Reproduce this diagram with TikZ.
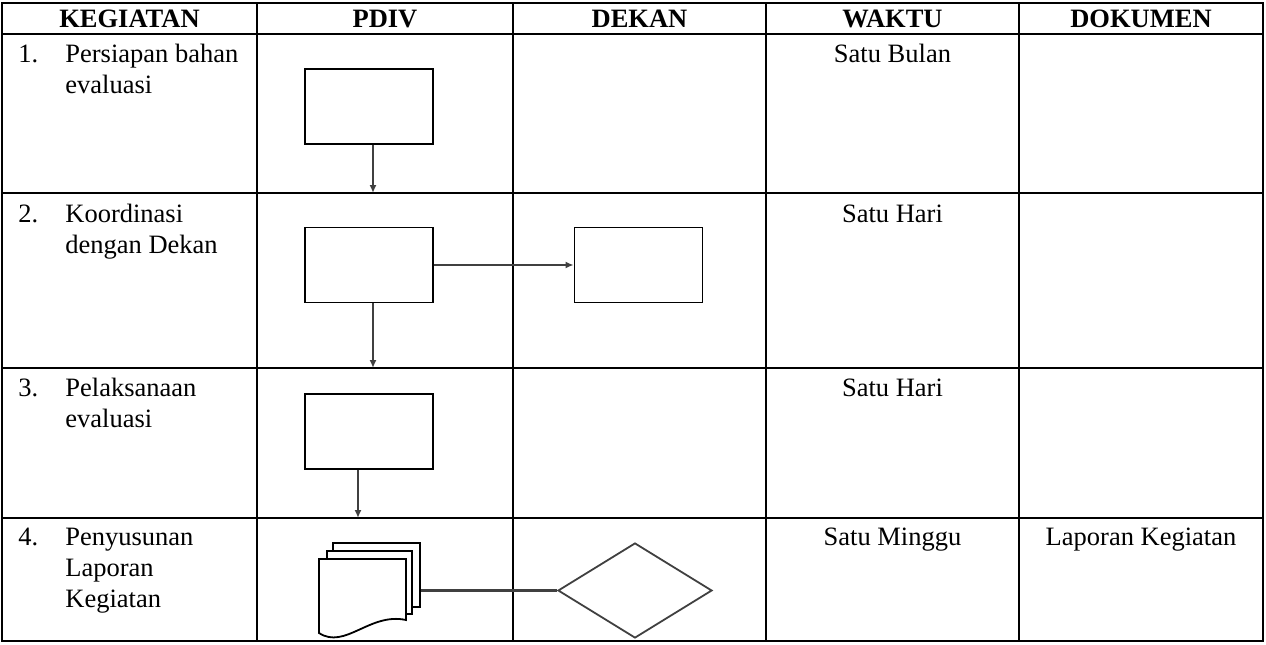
\documentclass[tikz,border=0pt]{standalone}
\usepackage{fontspec}
\setmainfont{Liberation Serif}
\usetikzlibrary{arrows.meta,shapes.geometric}

\definecolor{flowgray}{gray}{0.25}

\tikzset{
    grid line/.style={line width=1.3pt, black},
    process/.style={draw, line width=0.9pt, minimum width=64pt, minimum height=37.5pt, inner sep=0pt},
    decision/.style={diamond, draw=flowgray, line width=0.9pt, minimum width=77pt, minimum height=47.5pt, inner sep=0pt},
    page/.style={draw, fill=white, line width=0.9pt, inner sep=0pt},
    flow/.style={draw=flowgray, line width=1pt, -{Latex[length=4pt,width=3.5pt]}},
    link/.style={draw=flowgray, line width=1.1pt},
    cell text/.style={font=\fontsize{13.25pt}{15.5pt}\selectfont, inner sep=0pt},
    head text/.style={cell text, font=\fontsize{13.25pt}{15.5pt}\selectfont\bfseries, anchor=base}
}
\newcommand{\celllines}[1]{\begin{tabular}[t]{@{}l@{}}#1\end{tabular}}

\begin{document}
\begin{tikzpicture}[x=0.5pt, y=-0.5pt]
            \useasboundingbox (0,0) rectangle (1266,644);

            \coordinate (r1) at (0,193);
            \coordinate (r2) at (0,368);
            \coordinate (r3) at (0,518);

            % table
            \draw[grid line] (2,3) rectangle (1263,641);
            \draw[grid line] (2,34) -- (1263,34);
            \draw[grid line] (2,193) -- (1263,193);
            \draw[grid line] (2,368) -- (1263,368);
            \draw[grid line] (2,518) -- (1263,518);

            \draw[grid line] (257,3) -- (257,641);
            \draw[grid line] (513,3) -- (513,641);
            \draw[grid line] (766,3) -- (766,641);
            \draw[grid line] (1019,3) -- (1019,641);

            \node[head text] (hkegiatan) at (129.5,27) {KEGIATAN};
            \node[head text] (hpdiv) at (385,27) {PDIV};
            \node[head text] (hdekan) at (639.5,27) {DEKAN};
            \node[head text] (hwaktu) at (892.5,27) {WAKTU};
            \node[head text] (hdokumen) at (1141,27) {DOKUMEN};

            \node[cell text, anchor=base west] (no1) at (18,62) {1.};
            \node[cell text, anchor=base west] (keg1) at (65,62) {\celllines{Persiapan bahan\\evaluasi}};
            \node[cell text, anchor=base west] (no2) at (18,222) {2.};
            \node[cell text, anchor=base west] (keg2) at (65,222) {\celllines{Koordinasi\\dengan Dekan}};
            \node[cell text, anchor=base west] (no3) at (18,396) {3.};
            \node[cell text, anchor=base west] (keg3) at (65,396) {\celllines{Pelaksanaan\\evaluasi}};
            \node[cell text, anchor=base west] (no4) at (18,545) {4.};
            \node[cell text, anchor=base west] (keg4) at (65,545) {\celllines{Penyusunan\\Laporan\\Kegiatan}};

            \node[cell text, anchor=base] (waktu1) at (892.5,62) {Satu Bulan};
            \node[cell text, anchor=base] (waktu2) at (892.5,222) {Satu Hari};
            \node[cell text, anchor=base] (waktu3) at (892.5,396) {Satu Hari};
            \node[cell text, anchor=base] (waktu4) at (892.5,545) {Satu Minggu};
            \node[cell text, anchor=base] (dok4) at (1141,545) {Laporan Kegiatan};

            % flow
            \node[process] (pdiv1) at (369,106.5) {};
            \node[process] (pdiv2) at (369,265) {};
            \node[process] (dekan2) at (638.5,265) {};
            \node[process] (pdiv3) at (369,431.5) {};

            \draw[flow] ([xshift=2pt]pdiv1.south) -- ([xshift=2pt]pdiv1.south |- r1);
            \draw[flow] ([xshift=2pt]pdiv2.south) -- ([xshift=2pt]pdiv2.south |- r2);
            \draw[flow] ([xshift=-5.5pt]pdiv3.south) -- ([xshift=-5.5pt]pdiv3.south |- r3);
            \draw[flow] (pdiv2.east) -- (dekan2.west);

            \node[page, minimum width=43.5pt, minimum height=32pt] (doc3) at (376.5,575) {};
            \node[page, minimum width=42.5pt, minimum height=31.5pt] (doc2) at (369.5,582.5) {};
            \draw[page] (319,559) -- (406,559) -- (406,620)
                .. controls (370,612) and (345,650) .. (319,633) -- cycle;

            \node[decision] (dekan4) at (635,590.5) {};
            \draw[link] (dekan4.west) -- (dekan4.west -| doc3.east);

\end{tikzpicture}
\end{document}
